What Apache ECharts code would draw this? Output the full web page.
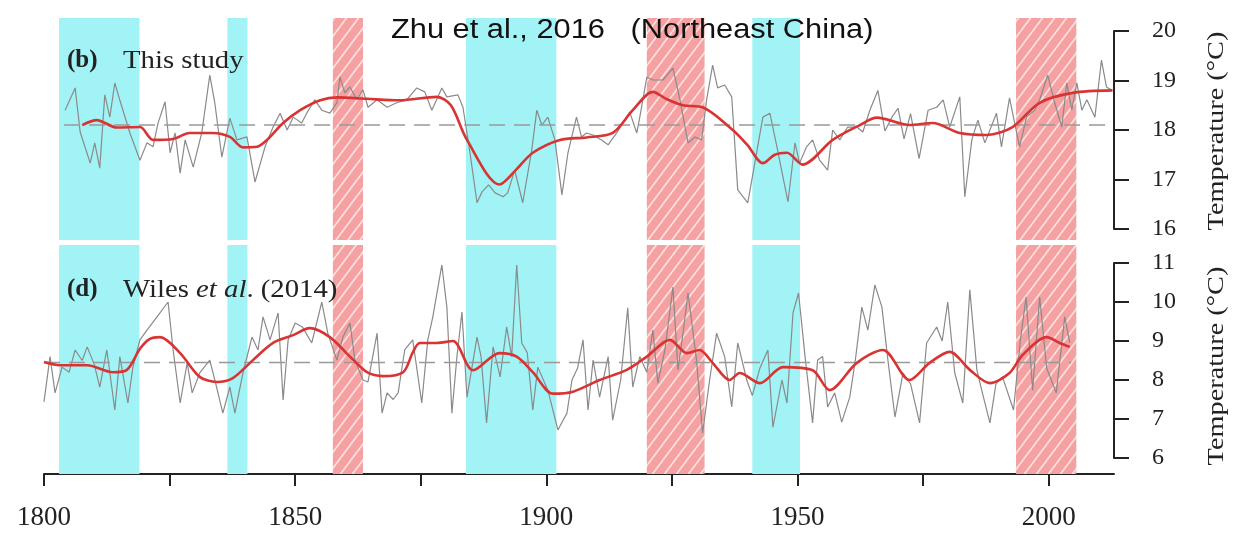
<!DOCTYPE html>
<html><head><meta charset="utf-8">
<script src="https://cdn.jsdelivr.net/npm/echarts@6/dist/echarts.min.js"></script>
<style>html,body{margin:0;padding:0;background:#fff}#c{width:1240px;height:540px}</style>
</head><body><div id="c"></div>
<script>
// ---------- data ----------
const xTickYears = [1800,1825,1850,1875,1900,1925,1950,1975,2000];
const xLabelYears = [1800,1850,1900,1950,2000];
const cyanBands = [[1803,1819],[1836.5,1840.5],[1884,1902],[1941,1950.5]];
const redBands = [[1857.5,1863.5],[1920,1931.5],[1993.5,2005.5]];
const topMean = 18.1, topMeanRange = [1804, 2013];
const botMean = 8.45, botMeanRange = [1800, 2004.5];
const topAnnual = [[1804.2,18.4],[1806.2,18.85],[1807.2,17.96],[1809.2,17.33],[1810.1,17.74],[1811.1,17.23],[1812.1,18.71],[1813.1,18.26],[1814.1,18.95],[1815.1,18.6],[1817.1,17.94],[1819.1,17.39],[1820.5,17.74],[1821.7,17.66],[1822.7,18.14],[1824.1,18.57],[1825.1,17.54],[1826.1,17.94],[1827.1,17.13],[1828.1,17.8],[1829.7,17.25],[1831.4,17.94],[1833,19.11],[1834,18.55],[1835.4,17.45],[1837,18.24],[1838.4,17.8],[1840.4,17.86],[1842,16.95],[1844,17.66],[1845.6,18.06],[1847,18.34],[1848.4,18.0],[1849.6,18.26],[1851.3,18.14],[1852.3,18.34],[1853.9,18.61],[1855.3,18.4],[1856.9,18.34],[1858.3,18.55],[1858.9,19.07],[1859.9,18.75],[1860.9,18.87],[1862.3,18.61],[1863.5,18.81],[1864.5,18.46],[1866.3,18.61],[1868.3,18.46],[1870.2,18.55],[1872.2,18.61],[1874.2,18.85],[1875.8,18.77],[1877.2,18.4],[1879.2,18.85],[1880.2,18.67],[1882.4,18.71],[1883.4,18.46],[1884.8,17.54],[1886.2,16.53],[1887.2,16.75],[1888.5,16.89],[1889.8,16.73],[1891.4,16.65],[1892.3,16.73],[1893.7,17.19],[1895.3,16.53],[1897.1,17.6],[1898.1,18.4],[1899.1,18.1],[1900.3,18.26],[1901.7,17.8],[1903.1,16.69],[1904.3,17.54],[1906,18.26],[1907,17.86],[1908,17.94],[1909.3,17.9],[1911,17.8],[1912.3,17.7],[1914,17.94],[1915.6,18.2],[1916.6,18.36],[1918,17.94],[1918.6,18.26],[1920,19.07],[1921.2,19.01],[1923.2,19.01],[1925.2,19.25],[1926.6,18.61],[1928.2,17.74],[1929.6,17.86],[1930.9,17.8],[1931.9,18.61],[1933.1,19.31],[1934.1,18.85],[1935.5,18.91],[1936.9,18.67],[1938.1,16.79],[1940.1,16.53],[1941.5,17.33],[1943.1,18.26],[1944.5,18.34],[1945.9,17.66],[1948.1,16.55],[1949.5,17.74],[1950.4,17.33],[1951.8,17.66],[1953,17.8],[1954.4,17.39],[1956,17.19],[1957,18.0],[1958.4,17.8],[1960,18.06],[1961.8,18.06],[1963,17.96],[1964.4,18.4],[1966,18.8],[1967.4,17.98],[1968.8,18.26],[1970,18.44],[1971.2,17.82],[1972.5,18.33],[1974.2,17.42],[1976,18.4],[1977.7,18.46],[1979,18.61],[1980.3,18.06],[1982.3,18.67],[1983.3,16.65],[1984.7,17.8],[1985.9,18.2],[1987.3,17.74],[1989.6,18.34],[1990.6,17.66],[1992.2,18.65],[1994.2,17.66],[1995.6,18.26],[1997.2,18.4],[1998.2,18.61],[1999.8,19.11],[2001.2,18.55],[2002.6,18.06],[2003.6,18.95],[2004.6,18.4],[2005.6,18.95],[2006.6,18.4],[2007.6,18.61],[2009.2,18.26],[2010.5,19.41],[2011.5,18.87],[2012.5,18.81]];
const topSmooth = [[1807.6,18.1],[1810.5,18.2],[1814.5,18.05],[1819.1,18.06],[1821.7,17.8],[1825.7,17.82],[1829,17.94],[1833.6,17.94],[1837,17.86],[1839.6,17.65],[1842.4,17.66],[1844.4,17.8],[1847.6,18.14],[1851,18.4],[1855,18.6],[1858.3,18.66],[1864.3,18.63],[1870.8,18.6],[1878.2,18.67],[1881,18.5],[1884.2,17.8],[1890.7,16.9],[1894,17.2],[1897.3,17.54],[1902.7,17.8],[1908,17.85],[1913.2,17.94],[1917.2,18.4],[1921.2,18.77],[1924,18.62],[1927.2,18.5],[1931.1,18.46],[1937.1,18.0],[1940,17.7],[1943.1,17.33],[1945.5,17.5],[1947.9,17.54],[1951,17.3],[1957,17.8],[1962.4,18.1],[1965.8,18.25],[1972.3,18.1],[1976.9,18.14],[1982.3,17.94],[1987.7,17.9],[1992.8,18.06],[1998.2,18.55],[2004.8,18.75],[2012.7,18.8]];
const botAnnual = [[1800,7.44],[1801.2,8.6],[1802.2,7.67],[1803.6,8.33],[1805,8.2],[1806.2,8.77],[1807.6,8.5],[1808.6,8.85],[1810,8.4],[1811.1,7.82],[1812.5,8.77],[1814.1,7.23],[1815.1,8.6],[1816.7,7.41],[1817.7,8.33],[1819.1,9.03],[1820.5,9.28],[1822.5,9.62],[1824.7,10.0],[1825.7,8.77],[1827.1,7.41],[1828.5,8.44],[1829.5,7.67],[1831,8.18],[1833,8.51],[1834.2,7.9],[1835.6,7.15],[1837,7.82],[1838,7.15],[1839.6,8.18],[1841.4,9.1],[1842.6,8.77],[1843.6,9.62],[1845,9.03],[1846.6,9.72],[1847.6,7.49],[1848.6,9.03],[1850,9.46],[1851.5,9.35],[1853.3,8.95],[1855.3,10.0],[1856.5,9.2],[1858.3,8.51],[1859.5,9.1],[1860.9,9.46],[1861.9,8.51],[1863.5,8.0],[1864.5,7.95],[1866.3,9.2],[1867.3,7.15],[1868.3,7.67],[1869.5,7.5],[1870.5,7.67],[1871.8,8.77],[1873.4,9.03],[1875.2,7.41],[1876.4,9.03],[1877.4,9.62],[1879.2,10.95],[1880.2,9.87],[1881.2,7.15],[1882.2,8.6],[1883.2,9.74],[1884.2,7.56],[1886.2,9.1],[1887,8.6],[1888.1,6.9],[1889.4,8.85],[1890.8,8.08],[1892.1,9.36],[1893.1,8.6],[1894.1,10.95],[1895.1,8.95],[1896.2,8.7],[1897.3,7.23],[1898.3,8.33],[1900.3,7.74],[1902.3,6.72],[1904.1,7.15],[1905.1,8.0],[1906.2,8.3],[1907.3,9.03],[1908.3,7.23],[1909.3,8.51],[1910.6,7.56],[1912.3,8.6],[1913.2,6.97],[1914.8,8.0],[1916.2,9.85],[1917.2,7.82],[1918.6,8.6],[1920,8.2],[1921.2,9.28],[1922.2,7.92],[1923.6,8.77],[1925.2,10.38],[1926.2,8.26],[1927.2,9.2],[1928.2,10.23],[1929.9,8.51],[1931.1,6.64],[1932.5,8.0],[1933.9,9.2],[1935.5,8.6],[1936.9,7.31],[1938.1,8.95],[1939.9,8.0],[1941,7.6],[1942.5,8.3],[1944.1,8.77],[1945.1,6.79],[1946.9,8.0],[1947.9,7.41],[1949.1,9.72],[1950.2,10.23],[1951.5,8.6],[1953,6.9],[1954,8.51],[1955,8.6],[1956,7.31],[1957.4,7.67],[1958.8,6.92],[1960.4,7.56],[1961.5,8.5],[1962.8,9.87],[1964,9.28],[1965.4,10.44],[1966.8,9.87],[1968,8.5],[1969.4,7.05],[1971,8.18],[1972.5,7.9],[1974.3,6.9],[1975.7,8.95],[1977.7,9.36],[1978.8,9.0],[1979.9,10.0],[1981.3,8.18],[1982.9,7.41],[1984.3,10.31],[1985.7,8.26],[1986.8,7.67],[1988.3,6.9],[1989.5,7.9],[1990.8,8.08],[1993,7.23],[1994.3,8.95],[1995.5,10.13],[1996.8,7.74],[1998.2,10.13],[1999.6,8.3],[2001.5,7.67],[2003.2,9.62],[2004.2,8.95]];
const botSmooth = [[1800,8.46],[1803.2,8.38],[1808.6,8.38],[1813.7,8.2],[1816.5,8.26],[1819.1,8.8],[1821,9.05],[1823.1,9.1],[1827.1,8.69],[1831,8.08],[1834.4,7.95],[1837.6,8.05],[1841.6,8.51],[1845.6,8.95],[1849.6,9.15],[1852.9,9.33],[1856.9,9.1],[1860.9,8.6],[1864.3,8.2],[1867.5,8.1],[1871.5,8.2],[1873.4,8.7],[1874.8,8.95],[1878.2,8.95],[1881.4,9.0],[1885.4,8.25],[1890.7,8.69],[1894.1,8.6],[1897.3,8.2],[1901.3,7.65],[1905.3,7.7],[1910.6,8.0],[1916,8.26],[1920,8.6],[1924.6,9.03],[1928,8.69],[1930.5,8.77],[1933.1,8.44],[1936.5,8.0],[1938.5,8.18],[1942.5,7.92],[1947.1,8.33],[1953,8.25],[1956.4,7.74],[1961.8,8.44],[1967,8.77],[1972.3,8.0],[1976.3,8.44],[1980.3,8.72],[1984.3,8.26],[1988.3,7.92],[1992.2,8.18],[1994.8,8.64],[1999.6,9.1],[2002.2,8.95],[2004.2,8.85]];

// ---------- styles ----------
function hatch(){
  const c=document.createElement('canvas'); c.width=12; c.height=16;
  const g=c.getContext('2d'); g.fillStyle='#f5a0a1'; g.fillRect(0,0,12,16);
  g.strokeStyle='rgba(255,255,255,0.65)'; g.lineWidth=1.8;
  for (const dx of [-12,0,12]) { g.beginPath(); g.moveTo(dx,16); g.lineTo(dx+12,0); g.stroke(); }
  return c;
}
const CYAN='#a2f3f5';
const RED_FILL={image:hatch(), repeat:'repeat'};
function bandRender(fill){ return function(params, api){
  const a=api.coord([api.value(0),1]); const b=api.coord([api.value(1),0]);
  return {type:'rect', shape:{x:a[0],y:a[1],width:b[0]-a[0],height:b[1]-a[1]}, style:{fill:fill}};
};}
const L=44, W=1070;
const SERIF="Liberation Serif";
const hiddenX = i => ({type:'value', gridIndex:i, min:1800, max:2013, show:false});
const hiddenY = i => ({type:'value', gridIndex:i, min:0, max:1, show:false});
function tempY(i,min,max){ return {type:'value', gridIndex:i, position:'right', min:min, max:max, interval:1,
  axisLine:{show:true, lineStyle:{color:'#222', width:2}},
  axisTick:{show:true, length:15, lineStyle:{color:'#222', width:2}},
  axisLabel:{show:false},
  splitLine:{show:false}}; }
function labelY(i,min,max){ return {type:'value', gridIndex:i, position:'right', offset:30, min:min, max:max, interval:1,
  axisLine:{show:false}, axisTick:{show:false}, splitLine:{show:false},
  axisLabel:{margin:8, fontFamily:SERIF, fontSize:24, color:'#222'}}; }

const chart=echarts.init(document.getElementById('c'));
chart.setOption({
  animation:false,
  backgroundColor:'#fff',
  grid:[
    {left:L, width:W, top:18, height:222},
    {left:L, width:W, top:245, height:229},
    {left:L, width:W, top:31, height:198},
    {left:L, width:W, top:263, height:195}
  ],
  xAxis:[hiddenX(0),
    {type:'value', gridIndex:1, min:1800, max:2013,
     axisLine:{show:true, lineStyle:{color:'#222', width:2}},
     axisTick:{show:true, inside:false, length:12, lineStyle:{color:'#222', width:2}, customValues:xTickYears},
     axisLabel:{fontFamily:SERIF, fontSize:27, color:'#222', margin:30, customValues:xLabelYears, formatter:v=>String(v)},
     splitLine:{show:false}},
    hiddenX(2), hiddenX(3)],
  yAxis:[hiddenY(0), hiddenY(1), tempY(2,16,20), tempY(3,6,11), labelY(2,16,20), labelY(3,6,11)],
  graphic:[
    {type:'text', z:100, x:391, y:31, scaleX:1.14, style:{text:'Zhu et al., 2016   (Northeast China)', font:"27px 'Liberation Sans', Arial, sans-serif", fill:'#111', verticalAlign:'middle'}},
    {type:'text', z:100, x:67, y:61, style:{text:'(b)', font:"bold 25px 'Liberation Serif', serif", fill:'#222', verticalAlign:'middle'}},
    {type:'text', z:100, x:123, y:61, scaleX:1.15, style:{text:'This study', font:"25px 'Liberation Serif', serif", fill:'#222', verticalAlign:'middle'}},
    {type:'text', z:100, x:67, y:290, style:{text:'(d)', font:"bold 25px 'Liberation Serif', serif", fill:'#222', verticalAlign:'middle'}},
    {type:'text', z:100, x:123, y:290, scaleX:1.15, style:{text:'Wiles {i|et al}. (2014)', font:"25px 'Liberation Serif', serif", fill:'#222', verticalAlign:'middle',
       rich:{i:{font:"italic 25px 'Liberation Serif', serif", fill:'#222'}}}},
    {type:'text', z:100, x:1217, y:131, rotation:Math.PI/2, scaleX:1.18, style:{text:'Temperature (°C)', font:"24px 'Liberation Serif', serif", fill:'#222', align:'center', verticalAlign:'middle'}},
    {type:'text', z:100, x:1217, y:366, rotation:Math.PI/2, scaleX:1.18, style:{text:'Temperature (°C)', font:"24px 'Liberation Serif', serif", fill:'#222', align:'center', verticalAlign:'middle'}}
  ],
  series:[
    {type:'custom', xAxisIndex:0, yAxisIndex:0, data:cyanBands, renderItem:bandRender(CYAN), silent:true, z:1},
    {type:'custom', xAxisIndex:0, yAxisIndex:0, data:redBands, renderItem:bandRender(RED_FILL), silent:true, z:1},
    {type:'custom', xAxisIndex:1, yAxisIndex:1, data:cyanBands, renderItem:bandRender(CYAN), silent:true, z:1},
    {type:'custom', xAxisIndex:1, yAxisIndex:1, data:redBands, renderItem:bandRender(RED_FILL), silent:true, z:1},
    {type:'line', xAxisIndex:2, yAxisIndex:2, data:topAnnual, showSymbol:false, lineStyle:{color:'#8a8a8a', width:1.2}, z:3},
    {type:'line', xAxisIndex:2, yAxisIndex:2, data:[[topMeanRange[0],topMean],[topMeanRange[1],topMean]], showSymbol:false, lineStyle:{color:'#999', width:1.6, type:[16,9]}, z:4},
    {type:'line', xAxisIndex:2, yAxisIndex:2, data:topSmooth, showSymbol:false, smooth:0.3, lineStyle:{color:'#d83434', width:2.6}, z:5},
    {type:'line', xAxisIndex:3, yAxisIndex:3, data:botAnnual, showSymbol:false, lineStyle:{color:'#8a8a8a', width:1.2}, z:3},
    {type:'line', xAxisIndex:3, yAxisIndex:3, data:[[botMeanRange[0],botMean],[botMeanRange[1],botMean]], showSymbol:false, lineStyle:{color:'#999', width:1.6, type:[16,9]}, z:4},
    {type:'line', xAxisIndex:3, yAxisIndex:3, data:botSmooth, showSymbol:false, smooth:0.3, lineStyle:{color:'#d83434', width:2.6}, z:5}
  ]
});
</script></body></html>
